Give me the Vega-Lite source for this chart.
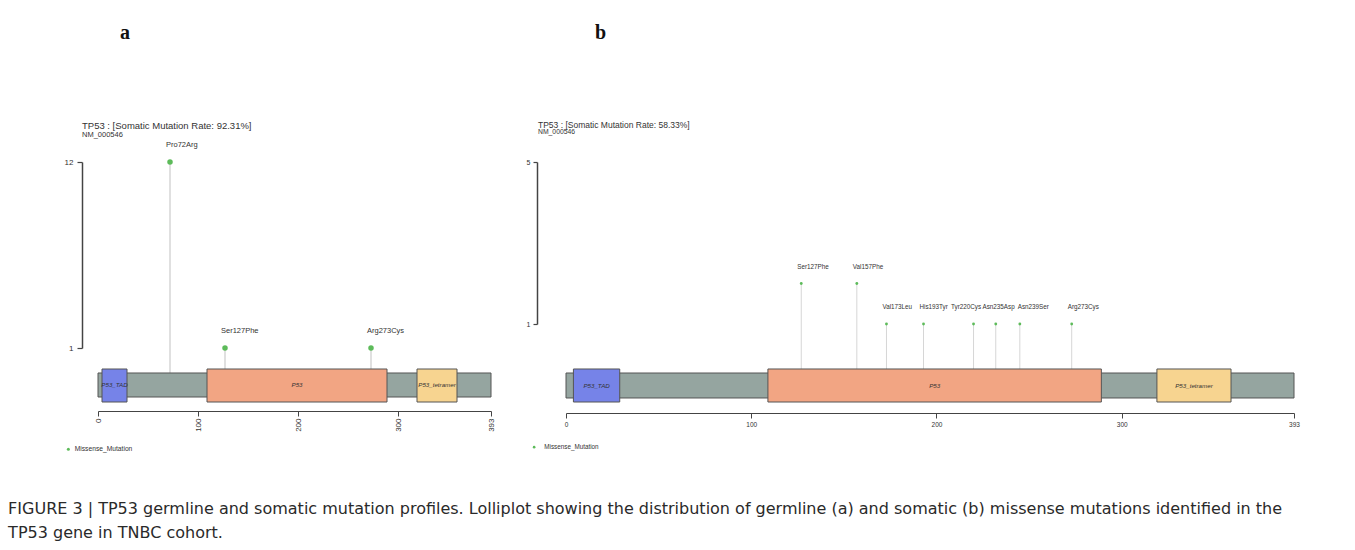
{
  "$schema": "https://vega.github.io/schema/vega-lite/v6.json",
  "padding": {"left": 8, "top": 22, "right": 5, "bottom": 5},
  "background": "white",
  "datasets": {
    "mutA": [
      {"pos": 72, "labelAt": 72, "count": 12, "label": "Pro72Arg", "type": "Missense_Mutation"},
      {"pos": 127, "labelAt": 127, "count": 1, "label": "Ser127Phe", "type": "Missense_Mutation"},
      {"pos": 273, "labelAt": 273, "count": 1, "label": "Arg273Cys", "type": "Missense_Mutation"}
    ],
    "mutB": [
      {"pos": 127, "labelAt": 127, "count": 2, "label": "Ser127Phe", "type": "Missense_Mutation"},
      {"pos": 157, "labelAt": 157, "count": 2, "label": "Val157Phe", "type": "Missense_Mutation"},
      {"pos": 173, "labelAt": 173, "count": 1, "label": "Val173Leu", "type": "Missense_Mutation"},
      {"pos": 193, "labelAt": 193, "count": 1, "label": "His193Tyr", "type": "Missense_Mutation"},
      {"pos": 220, "labelAt": 210, "count": 1, "label": "Tyr220Cys", "type": "Missense_Mutation"},
      {"pos": 232, "labelAt": 227, "count": 1, "label": "Asn235Asp", "type": "Missense_Mutation"},
      {"pos": 245, "labelAt": 246, "count": 1, "label": "Asn239Ser", "type": "Missense_Mutation"},
      {"pos": 273, "labelAt": 273, "count": 1, "label": "Arg273Cys", "type": "Missense_Mutation"}
    ],
    "protein": [{"start": 0, "end": 393}],
    "domains": [
      {"name": "P53_TAD", "start": 4, "end": 29},
      {"name": "P53", "start": 109, "end": 289},
      {"name": "P53_tetramer", "start": 319, "end": 359}
    ]
  },
  "title": {
    "text": ["FIGURE 3 | TP53 germline and somatic mutation profiles. Lolliplot showing the distribution of germline (a) and somatic (b) missense mutations identified in the", "TP53 gene in TNBC cohort."],
    "orient": "bottom", "anchor": "start", "frame": "bounds", "dx": -56, "offset": 47,
    "font": "DejaVu Sans", "fontSize": 16, "fontWeight": "normal", "color": "#2a2a2a", "lineHeight": 24
  },
  "spacing": 31,
  "resolve": {"scale": {"x": "independent", "y": "independent", "color": "independent", "fill": "independent"}, "legend": {"color": "independent"}},
  "hconcat": [
    {
      "title": {"text": "a", "anchor": "start", "frame": "bounds", "dx": 56, "offset": 78, "font": "Liberation Serif", "fontSize": 20, "fontWeight": "bold", "color": "#111"},
      "resolve": {"scale": {"x": "independent", "y": "independent", "color": "independent", "fill": "independent"}, "legend": {"color": "independent"}},
      "vconcat": [
        {
          "width": 393, "height": 249,
          "title": {"text": "TP53 : [Somatic Mutation Rate: 92.31%]", "subtitle": "NM_000546", "anchor": "start", "frame": "group", "dx": -16, "offset": 3,
            "font": "Liberation Sans", "fontSize": 9.5, "fontWeight": "normal", "color": "#333", "subtitleFont": "Liberation Sans", "subtitleFontSize": 7.5, "subtitleColor": "#333", "subtitlePadding": 0},
          "layer": [
            {
              "data": {"name": "mutA"},
              "mark": {"type": "rule", "color": "#D6D6D6", "strokeWidth": 1.5},
              "encoding": {
                "x": {"field": "pos", "type": "quantitative", "scale": {"domain": [0, 393], "nice": false, "zero": false},
                  "axis": {"values": [0, 100, 200, 300, 393], "labelAngle": -90, "title": null, "grid": false, "domainColor": "#444", "domainWidth": 1.2, "tickColor": "#444", "tickSize": 5, "labelFontSize": 8, "labelFont": "Liberation Sans", "labelColor": "#333", "labelPadding": 2, "labelFlush": false, "labelOverlap": false}},
                "y": {"field": "count", "type": "quantitative", "scale": {"domain": [1, 12], "range": [186, 0], "nice": false, "zero": false},
                  "axis": {"values": [1, 12], "format": "d", "title": null, "grid": false, "offset": 16, "tickSize": 5, "labelPadding": 4, "labelFontSize": 8, "labelFont": "Liberation Sans", "labelColor": "#333", "domainColor": "#444", "domainWidth": 1.5, "tickColor": "#444", "tickWidth": 1.2}},
                "y2": {"datum": -1.19}
              }
            },
            {
              "data": {"name": "protein"},
              "mark": {"type": "rect", "fill": "#95A5A0", "stroke": "#555", "strokeWidth": 1},
              "encoding": {"x": {"field": "start", "type": "quantitative"}, "x2": {"field": "end"}, "y": {"datum": -0.478}, "y2": {"datum": -1.898}}
            },
            {
              "data": {"name": "domains"},
              "mark": {"type": "rect", "stroke": "#555", "strokeWidth": 1},
              "encoding": {
                "x": {"field": "start", "type": "quantitative"}, "x2": {"field": "end"},
                "y": {"datum": -0.242}, "y2": {"datum": -2.194},
                "fill": {"field": "name", "type": "nominal", "scale": {"domain": ["P53_TAD", "P53", "P53_tetramer"], "range": ["#7683E8", "#F2A583", "#F7D490"]}, "legend": null}
              }
            },
            {
              "data": {"name": "domains"},
              "transform": [{"fold": ["start", "end"], "as": ["edge", "aa"]}, {"aggregate": [{"op": "mean", "field": "aa", "as": "mid"}], "groupby": ["name"]}],
              "mark": {"type": "text", "fontStyle": "italic", "fontSize": 6.2, "font": "Liberation Sans", "color": "#333", "baseline": "middle"},
              "encoding": {"x": {"field": "mid", "type": "quantitative"}, "y": {"datum": -1.19}, "text": {"field": "name"}}
            },
            {
              "data": {"name": "mutA"},
              "mark": {"type": "circle", "size": 30, "opacity": 1},
              "encoding": {
                "x": {"field": "pos", "type": "quantitative"},
                "y": {"field": "count", "type": "quantitative"},
                "color": {"field": "type", "type": "nominal", "scale": {"domain": ["Missense_Mutation"], "range": ["#5DBB5A"]},
                  "legend": {"orient": "none", "legendX": -33, "legendY": 284, "title": null, "symbolType": "circle", "symbolSize": 9, "labelFontSize": 6.7, "labelFont": "Liberation Sans", "labelColor": "#333", "padding": 0, "labelOffset": 3}}
              }
            },
            {
              "data": {"name": "mutA"},
              "mark": {"type": "text", "align": "left", "baseline": "middle", "dx": -4, "dy": -17, "fontSize": 7.5, "font": "Liberation Sans", "color": "#333"},
              "encoding": {"x": {"field": "labelAt", "type": "quantitative"}, "y": {"field": "count", "type": "quantitative"}, "text": {"field": "label"}}
            }
          ]
        }
      ]
    },
    {
      "title": {"text": "b", "anchor": "start", "frame": "bounds", "dx": 69, "offset": 78, "font": "Liberation Serif", "fontSize": 20, "fontWeight": "bold", "color": "#111"},
      "resolve": {"scale": {"x": "independent", "y": "independent", "color": "independent", "fill": "independent"}, "legend": {"color": "independent"}},
      "vconcat": [
        {
          "width": 728, "height": 251,
          "title": {"text": "TP53 : [Somatic Mutation Rate: 58.33%]", "subtitle": "NM_000546", "anchor": "start", "frame": "group", "dx": -28, "offset": 22,
            "font": "Liberation Sans", "fontSize": 8.5, "fontWeight": "normal", "color": "#333", "subtitleFont": "Liberation Sans", "subtitleFontSize": 6.8, "subtitleColor": "#333", "subtitlePadding": 0},
          "layer": [
            {
              "data": {"name": "mutB"},
              "mark": {"type": "rule", "color": "#D6D6D6", "strokeWidth": 1},
              "encoding": {
                "x": {"field": "pos", "type": "quantitative", "scale": {"domain": [0, 393], "nice": false, "zero": false},
                  "axis": {"values": [0, 100, 200, 300, 393], "labelAngle": 0, "title": null, "grid": false, "domainColor": "#444", "domainWidth": 1.2, "tickColor": "#444", "tickSize": 5, "labelFontSize": 6.5, "labelFont": "Liberation Sans", "labelColor": "#333", "labelPadding": 3, "labelFlush": false, "labelOverlap": false}},
                "y": {"field": "count", "type": "quantitative", "scale": {"domain": [1, 5], "range": [162, 0], "nice": false, "zero": false},
                  "axis": {"values": [1, 5], "format": "d", "title": null, "grid": false, "offset": 29, "tickSize": 4, "labelPadding": 3, "labelFontSize": 7, "labelFont": "Liberation Sans", "labelColor": "#333", "domainColor": "#444", "domainWidth": 1.5, "tickColor": "#444", "tickWidth": 1.2}},
                "y2": {"datum": -0.519}
              }
            },
            {
              "data": {"name": "protein"},
              "mark": {"type": "rect", "fill": "#95A5A0", "stroke": "#555", "strokeWidth": 1},
              "encoding": {"x": {"field": "start", "type": "quantitative"}, "x2": {"field": "end"}, "y": {"datum": -0.21}, "y2": {"datum": -0.827}}
            },
            {
              "data": {"name": "domains"},
              "mark": {"type": "rect", "stroke": "#555", "strokeWidth": 1},
              "encoding": {
                "x": {"field": "start", "type": "quantitative"}, "x2": {"field": "end"},
                "y": {"datum": -0.111}, "y2": {"datum": -0.926},
                "fill": {"field": "name", "type": "nominal", "scale": {"domain": ["P53_TAD", "P53", "P53_tetramer"], "range": ["#7683E8", "#F2A583", "#F7D490"]}, "legend": null}
              }
            },
            {
              "data": {"name": "domains"},
              "transform": [{"fold": ["start", "end"], "as": ["edge", "aa"]}, {"aggregate": [{"op": "mean", "field": "aa", "as": "mid"}], "groupby": ["name"]}],
              "mark": {"type": "text", "fontStyle": "italic", "fontSize": 6.2, "font": "Liberation Sans", "color": "#333", "baseline": "middle"},
              "encoding": {"x": {"field": "mid", "type": "quantitative"}, "y": {"datum": -0.519}, "text": {"field": "name"}}
            },
            {
              "data": {"name": "mutB"},
              "mark": {"type": "circle", "size": 8, "opacity": 1},
              "encoding": {
                "x": {"field": "pos", "type": "quantitative"},
                "y": {"field": "count", "type": "quantitative"},
                "color": {"field": "type", "type": "nominal", "scale": {"domain": ["Missense_Mutation"], "range": ["#5DBB5A"]},
                  "legend": {"orient": "none", "legendX": -35, "legendY": 282, "title": null, "symbolType": "circle", "symbolSize": 7, "labelFontSize": 6.3, "labelFont": "Liberation Sans", "labelColor": "#333", "padding": 0, "labelOffset": 7}}
              }
            },
            {
              "data": {"name": "mutB"},
              "mark": {"type": "text", "align": "left", "baseline": "middle", "dx": -4, "dy": -17, "fontSize": 6.3, "font": "Liberation Sans", "color": "#333"},
              "encoding": {"x": {"field": "labelAt", "type": "quantitative"}, "y": {"field": "count", "type": "quantitative"}, "text": {"field": "label"}}
            }
          ]
        }
      ]
    }
  ],
  "config": {
    "view": {"stroke": null},
    "font": "Liberation Sans"
  }
}
